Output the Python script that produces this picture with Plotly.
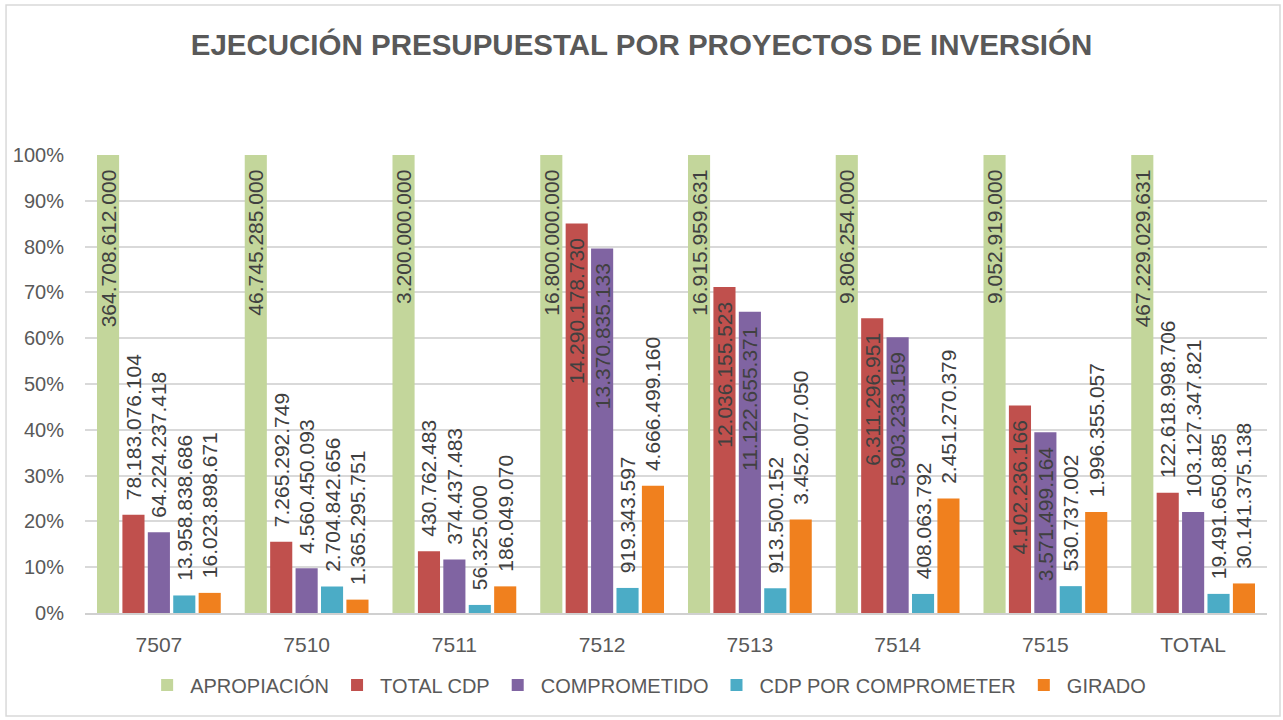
import plotly.graph_objects as go

# Budget execution by investment project (COP)
categorias = ["7507", "7510", "7511", "7512", "7513", "7514", "7515", "TOTAL"]
apropiacion = [364708612000, 46745285000, 3200000000, 16800000000,
               16915959631, 9806254000, 9052919000, 467229029631]
total_cdp = [78183076104, 7265292749, 430762483, 14290178730,
             12036155523, 6311296951, 4102236166, 122618998706]
comprometido = [64224237418, 4560450093, 374437483, 13370835133,
                11122655371, 5903233159, 3571499164, 103127347821]
cdp_por_comprometer = [13958838686, 2704842656, 56325000, 919343597,
                       913500152, 408063792, 530737002, 19491650885]
girado = [16023898671, 1365295751, 186049070, 4666499160,
          3452007050, 2451270379, 1996355057, 30141375138]

series = [
    ("APROPIACIÓN", apropiacion, "#C3D69B"),
    ("TOTAL CDP", total_cdp, "#C0504D"),
    ("COMPROMETIDO", comprometido, "#8064A2"),
    ("CDP POR COMPROMETER", cdp_por_comprometer, "#4BACC6"),
    ("GIRADO", girado, "#F0801E"),
]

FONT = "Liberation Sans"
GRAY = "#595959"
PAD = "\u00a0\u00a0"  # breathing room between label and bar end


def miles(v):
    return f"{v:,}".replace(",", ".")


fig = go.Figure()
for nombre, valores, color in series:
    pct = [v / a for v, a in zip(valores, apropiacion)]
    dentro = [p > 0.35 for p in pct]
    fig.add_trace(go.Bar(
        name=nombre,
        x=categorias,
        y=pct,
        text=[miles(v) + PAD if d else PAD + miles(v)
              for v, d in zip(valores, dentro)],
        customdata=[miles(v) for v in valores],
        textposition=["inside" if d else "outside" for d in dentro],
        insidetextanchor="end",
        textangle=-90,
        constraintext="none",
        cliponaxis=False,
        textfont=dict(family=FONT, size=21, color="#404040"),
        marker=dict(color=color, line=dict(width=0)),
        hovertemplate="%{x}<br>" + nombre + ": %{customdata}<extra></extra>",
    ))

fig.update_layout(
    width=1283,
    height=720,
    paper_bgcolor="white",
    plot_bgcolor="white",
    margin=dict(l=85, r=16, t=155, b=107),
    barmode="group",
    bargap=0.14,
    bargroupgap=0.13,
    uniformtext=dict(minsize=21, mode="show"),
    title=dict(
        text="<b>EJECUCIÓN PRESUPUESTAL POR PROYECTOS DE INVERSIÓN</b>",
        x=0.5, xanchor="center", y=0.938, yanchor="middle",
        font=dict(family=FONT, size=29.5, color=GRAY),
    ),
    legend=dict(
        orientation="h", x=0.476, xanchor="center", y=-0.157, yanchor="middle",
        font=dict(family=FONT, size=20, color=GRAY),
        itemwidth=36,
    ),
    xaxis=dict(
        tickfont=dict(family=FONT, size=21, color=GRAY),
        showline=True, linecolor="#D0D0D0", linewidth=2,
        ticks="", showgrid=False,
        ticklabelstandoff=12,
    ),
    yaxis=dict(
        range=[0, 1],
        dtick=0.1,
        tickformat=".0%",
        tickfont=dict(family=FONT, size=20, color=GRAY),
        showgrid=True, gridcolor="#D9D9D9", gridwidth=2,
        zeroline=False, showline=False, ticks="",
        ticklabelstandoff=20,
    ),
    shapes=[dict(
        type="rect", xref="paper", yref="paper",
        x0=-0.0668, x1=1.011, y0=-0.225, y1=1.3275,
        line=dict(color="#D9D9D9", width=1.5), fillcolor="rgba(0,0,0,0)",
        layer="below",
    )],
)

fig.write_html("out.html")
